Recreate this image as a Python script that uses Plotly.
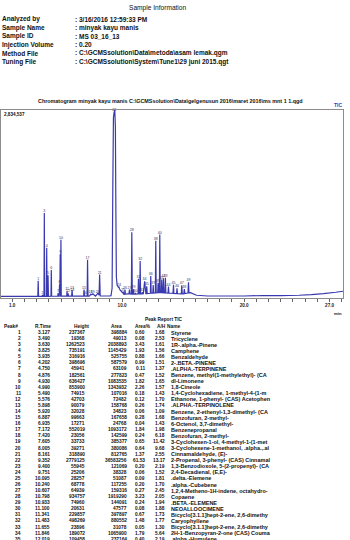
import plotly.graph_objects as go
import numpy as np

W, H = 350, 540

# ---------------- Sample information ----------------
info_title = "Sample Information"
info_labels = ["Analyzed by", "Sample Name", "Sample ID", "Injection Volume", "Method File", "Tuning File"]
info_values = ["3/16/2016 12:59:33 PM", "minyak kayu manis", "MS 03_16_13", "0.20",
               "C:\\GCMSsolution\\Data\\metoda\\asam lemak.qgm",
               "C:\\GCMSsolution\\System\\Tune1\\29 juni 2015.qgt"]

chrom_title = "Chromatogram minyak kayu manis C:\\GCMSsolution\\Data\\gelgenusun 2016\\maret 2016\\ms mnt 1 1.qgd"
y_max_label = "2,834,537"
y_max = 2834537

# ---------------- Peak report (TIC) ----------------
peak_no = list(range(1, 36))
r_time = [3.127, 3.490, 3.630, 3.825, 3.935, 4.202, 4.750, 4.876, 4.930, 4.990,
          5.490, 5.576, 5.898, 5.920, 6.887, 6.935, 7.172, 7.420, 7.605, 8.005,
          8.161, 9.352, 9.400, 9.751, 10.095, 10.240, 10.607, 10.798, 10.933, 11.100,
          11.341, 11.483, 11.655, 11.846, 12.019]
height = [237367, 19368, 1262523, 735191, 316916, 398696, 45941, 182561, 636427, 853900,
          74915, 42703, 90079, 32028, 99663, 17271, 552019, 23056, 33733, 39271,
          318890, 2779125, 55945, 25206, 28257, 68778, 64939, 934757, 74960, 20631,
          229857, 498269, 23896, 189072, 109458]
area = [398884, 49013, 2038893, 1145429, 525755, 587579, 63109, 277823, 1083535, 1343932,
        107016, 72482, 158768, 34823, 167658, 24768, 1093172, 142599, 385377, 380086,
        812765, 36583256, 121069, 38328, 51087, 117255, 159316, 1919290, 144091, 47577,
        397897, 880552, 31078, 1065900, 237164]
area_pct = [0.60, 0.08, 3.43, 1.93, 0.88, 0.99, 0.11, 0.47, 1.82, 2.26,
            0.18, 0.12, 0.26, 0.06, 0.28, 0.04, 1.84, 0.24, 0.65, 0.64,
            1.37, 61.53, 0.20, 0.06, 0.09, 0.20, 0.27, 3.23, 0.24, 0.08,
            0.67, 1.48, 0.05, 1.79, 0.40]
a_h = [1.68, 2.53, 1.61, 1.56, 1.66, 1.51, 1.37, 1.52, 1.65, 1.57,
       1.43, 1.70, 1.74, 1.09, 1.68, 1.43, 1.98, 6.18, 11.42, 9.68,
       2.55, 13.17, 2.19, 1.52, 1.81, 1.70, 2.45, 2.05, 1.94, 1.88,
       1.73, 1.77, 1.30, 5.64, 2.19]
names = ["Styrene", "Tricyclene", "1R-.alpha.-Pinene", "Camphene", "Benzaldehyde",
         "2-.BETA.-PINENE", ".ALPHA.-TERPINENE", "Benzene, methyl(1-methylethyl)- (CA",
         "dl-Limonene", "1,8-Cineole", "1,4-Cyclohexadiene, 1-methyl-4-(1-m",
         "Ethanone, 1-phenyl- (CAS) Acetophen", ".ALPHA.-TERPINOLENE",
         "Benzene, 2-ethenyl-1,3-dimethyl- (CA", "Benzofuran, 2-methyl-",
         "6-Octenol, 3,7-dimethyl-", "Benzenepropanal", "Benzofuran, 2-methyl-",
         "3-Cyclohexen-1-ol, 4-methyl-1-(1-met", "3-Cyclohexene-1-methanol, .alpha.,.al",
         "Cinnamaldehyde, (E)-", "2-Propenal, 3-phenyl- (CAS) Cinnamal",
         "1,3-Benzodioxole, 5-(2-propenyl)- (CA", "2,4-Decadienal, (E,E)-",
         ".delta.-Elemene", ".alpha.-Cubebene", "1,2,4-Metheno-1H-indene, octahydro-",
         "Copaene", ".BETA.-ELEMENE", "NEOALLOOCIMENE",
         "Bicyclo[3.1.1]hept-2-ene, 2,6-dimethy", "Caryophyllene",
         "Bicyclo[3.1.1]hept-2-ene, 2,6-dimethy", "2H-1-Benzopyran-2-one (CAS) Couma",
         ".alpha.-Humulene"]

# peaks visible on the chromatogram beyond the rows shown in the report
extra_no = list(range(36, 50))
extra_rt = [12.35, 12.55, 12.76, 12.95, 13.09, 13.25, 13.39, 13.55, 13.80, 14.21, 14.50, 14.89, 15.10, 15.44]
extra_h = [260000, 120000, 790000, 150000, 880000, 200000, 220000, 230000, 100000, 130000, 80000, 130000, 70000, 160000]
extra_ah = [1.8, 1.8, 1.9, 1.8, 1.9, 1.8, 1.8, 1.9, 2.0, 2.0, 2.0, 2.0, 2.5, 2.2]

# baseline of the TIC trace
base_t = [0.08, 2.0, 3.0, 5.0, 7.0, 9.0, 10.5, 11.0, 12.0, 13.0, 14.0, 15.0, 15.6, 16.1,
          17.0, 20.0, 21.5, 23.0, 24.5, 25.5, 26.5, 27.5, 28.1]
base_v = [12000, 12000, 13000, 15000, 16000, 20000, 50000, 45000, 55000, 70000, 60000, 50000,
          70000, 30000, 18000, 18000, 25000, 25000, 30000, 40000, 55000, 75000, 90000]

# shape of the overloaded main peak (offset in min, fraction of its height)
main_dt = [-0.26, -0.17, -0.11, -0.06, 0.0, 0.05, 0.10, 0.14, 0.18, 0.24, 0.32, 0.50, 0.80]
main_fr = [0.0, 0.04, 0.6, 0.97, 1.0, 0.99, 0.92, 0.45, 0.10, 0.055, 0.045, 0.025, 0.0]

# ---------------- build trace ----------------
all_rt = r_time + extra_rt
all_h = height + extra_h
all_ah = a_h + extra_ah
main_idx = 21

pts = list(base_t)
for i, (t, ah) in enumerate(zip(all_rt, all_ah)):
    if i == main_idx:
        continue
    hw = max(ah, 1.3) / 60.0 * 1.1
    pts += [t - hw, t, t + hw]
pts += [r_time[main_idx] + d for d in main_dt]
tt = np.unique(np.array(pts, dtype=float))
tt = tt[(tt >= base_t[0]) & (tt <= base_t[-1])]
vv = np.interp(tt, base_t, base_v)
for i, (t, h, ah) in enumerate(zip(all_rt, all_h, all_ah)):
    if i == main_idx:
        continue
    hw = max(ah, 1.3) / 60.0 * 1.1
    vv = vv + h * np.clip(1 - np.abs(tt - t) / hw, 0, None)
vv = vv + height[main_idx] * np.interp(tt - r_time[main_idx], main_dt, main_fr, left=0, right=0)

apex_v = [float(v) for v in np.interp(all_rt, tt, vv)]

fig = go.Figure()
fig.add_trace(go.Scatter(x=tt.tolist(), y=vv.tolist(), mode="lines",
                         line=dict(color="#3a3ab0", width=1.2, simplify=False),
                         hoverinfo="skip"))
fig.add_trace(go.Scatter(x=all_rt, y=apex_v, mode="text", text=[str(n) for n in peak_no + extra_no],
                         textposition="top center",
                         textfont=dict(size=3.6, color="#333366", family="Liberation Sans"),
                         cliponaxis=False, hoverinfo="skip"))

tick_vals = list(range(1, 29))
tick_text = [("%.1f" % v if v in (1, 10, 20, 27) else "") for v in tick_vals]


def px(x):
    return x / W


def py(y):
    return 1 - y / H


ann = []


def text(x, y, s, size, anchor="left", color="#111111", family="Liberation Sans", weight="bold"):
    ann.append(dict(x=px(x), y=py(y), xref="paper", yref="paper", text=s, showarrow=False,
                    xanchor=anchor, yanchor="middle",
                    font=dict(size=size, color=color, family=family, weight=weight)))


# header block
text(158, 8, info_title, 6.6, "center", weight="normal")
for k, (lab, val) in enumerate(zip(info_labels, info_values)):
    y = 19 + k * 8.6
    text(0, y, lab, 6.5)
    text(73, y, ": " + val, 6.5)

text(170, 101, chrom_title, 5.4, "center")
text(338, 105, "TIC", 5, "center", color="#3a3ab0")
text(2, 114, y_max_label, 4.6)
text(338, 313, "min", 4.2, "center")

# table
text(164, 319.5, "Peak Report TIC", 4.8, "center")
hy = 326
text(2, hy, "Peak#", 4.8)
text(33, hy, "R.Time", 4.8)
text(72, hy, "Height", 4.8)
text(124, hy, "Area", 4.8, "right")
text(133, hy, "Area%", 4.8)
text(155, hy, "A/H", 4.8)
text(165, hy, "Name", 4.8)
for i in range(len(peak_no)):
    y = 332.5 + i * 6.08
    text(23, y, str(peak_no[i]), 4.8, "right")
    text(52, y, "%.3f" % r_time[i], 4.8, "right")
    text(87, y, str(height[i]), 4.8, "right")
    text(129, y, str(area[i]), 4.8, "right")
    text(147, y, "%.2f" % area_pct[i], 4.8, "right")
    text(167, y, "%.2f" % a_h[i], 4.8, "right")
    text(169, y, names[i], 5.5)

fig.update_layout(
    width=W, height=H, margin=dict(l=0, r=0, t=0, b=0),
    paper_bgcolor="white", plot_bgcolor="white", showlegend=False,
    xaxis=dict(domain=[1 / W, 343 / W], range=[0.08, 28.1], showline=True, mirror=True,
               linecolor="#8c8c8c", linewidth=1, ticks="outside", ticklen=2.5, tickcolor="#666",
               tickwidth=0.8, tickvals=tick_vals, ticktext=tick_text,
               tickfont=dict(size=4.6, color="#222", family="Liberation Sans", weight="bold"),
               showgrid=False, zeroline=False),
    yaxis=dict(domain=[1 - 298 / H, 1 - 110 / H], range=[-12000, y_max], showline=True, mirror=True,
               linecolor="#8c8c8c", linewidth=1, showticklabels=False, ticks="",
               showgrid=False, zeroline=False),
    annotations=ann,
)

fig.write_html("out.html")
